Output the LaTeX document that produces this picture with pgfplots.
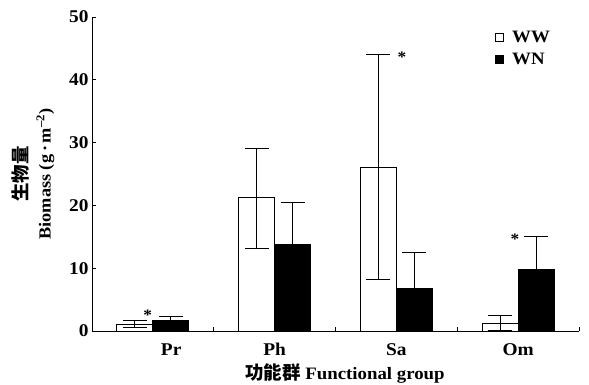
\documentclass[border=0pt]{standalone}
\usepackage{pgfplots}
\pgfplotsset{compat=1.18}
\usepackage{fontspec}
\setmainfont{Liberation Serif}[FakeStretch=1.08]
\newfontfamily\cjk{Noto Sans CJK SC}
\begin{document}
\begin{tikzpicture}
\useasboundingbox (0bp,0bp) rectangle (589bp,385bp);
\begin{axis}[
  at={(92bp,54bp)}, anchor=south west,
  scale only axis, width=487bp, height=314bp,
  xmin=-0.5, xmax=3.5, ymin=0, ymax=50,
  axis lines*=left,
  axis line style={line width=1bp},
  every tick/.style={black, line width=1bp},
  tick align=inside, major tick length=4bp,
  xtick={0.5,1.5,2.5,3.5}, xticklabels={},
  extra x ticks={0.15,1,2,3},
  extra x tick labels={Pr,Ph,Sa,Om},
  extra x tick style={major tick length=0pt, xticklabel style={yshift=-9bp}},
  ytick={0,10,20,30,40,50},
  /pgf/number format/assume math mode=true,
  ticklabel style={font=\fontsize{18}{20}\selectfont\bfseries},
  ylabel={{\cjk\bfseries\fontsize{18.5}{20}\selectfont 生物量}\\Biomass (g\,·\,m\textsuperscript{–2})},
  ylabel style={at={(axis description cs:-0.121,0.5)}, anchor=center, align=center,
    font=\fontsize{17}{23}\selectfont\bfseries},
  xlabel={{\cjk\bfseries\fontsize{18.5}{20}\selectfont 功能群} Functional group},
  xlabel style={at={(axis description cs:0.5195,-0.1345)}, anchor=center,
    font=\fontsize{17.5}{19}\selectfont\bfseries},
  legend style={at={(0.82,0.968)}, anchor=north west, draw=none, fill=none,
    font=\fontsize{17.5}{19}\selectfont\bfseries, row sep=5bp},
  legend cell align=left,
  clip=false,
]
\addlegendimage{legend image code/.code={\draw[black, fill=white, line width=1bp] (0bp,-4bp) rectangle (8bp,4bp); \path (15bp,0bp);}}
\addlegendentry{WW}
\addlegendimage{legend image code/.code={\draw[black, fill=black, line width=1bp] (0bp,-4bp) rectangle (8bp,4bp); \path (15bp,0bp);}}
\addlegendentry{WN}

% WW
\addplot[forget plot, ybar, bar width=0.296, bar shift=0pt, draw=black, fill=white, line width=1bp,
  error bars/.cd, y dir=both, y explicit,
  error bar style={line width=1bp, black},
  error mark options={rotate=90, line width=1bp, black, mark size=12bp}]
  coordinates {
  (-0.148,1.05) += (0,0.55) -= (0,0.55)
  (0.852,21.2) += (0,7.8) -= (0,8.0)
  (1.852,26.1) += (0,17.9) -= (0,17.9)
  (2.852,1.2) += (0,1.2) -= (0,1.1)
  };
% WN
\addplot[forget plot, ybar, bar width=0.296, bar shift=0pt, draw=black, fill=black, line width=1bp,
  error bars/.cd, y dir=plus, y explicit,
  error bar style={line width=1bp, black},
  error mark options={rotate=90, line width=1bp, black, mark size=12bp}]
  coordinates {
  (0.148,1.75) += (0,0.55)
  (1.148,13.8) += (0,6.6)
  (2.148,6.8) += (0,5.7)
  (3.148,9.8) += (0,5.2)
  };
\node[anchor=north, inner sep=0pt, font=\fontsize{16}{16}\selectfont\bfseries] at (axis cs:-0.043,3.45) {*};
\node[anchor=north, inner sep=0pt, font=\fontsize{16}{16}\selectfont\bfseries] at (axis cs:2.046,44.5) {*};
\node[anchor=north, inner sep=0pt, font=\fontsize{16}{16}\selectfont\bfseries] at (axis cs:2.974,15.55) {*};
\end{axis}
\end{tikzpicture}
\end{document}
